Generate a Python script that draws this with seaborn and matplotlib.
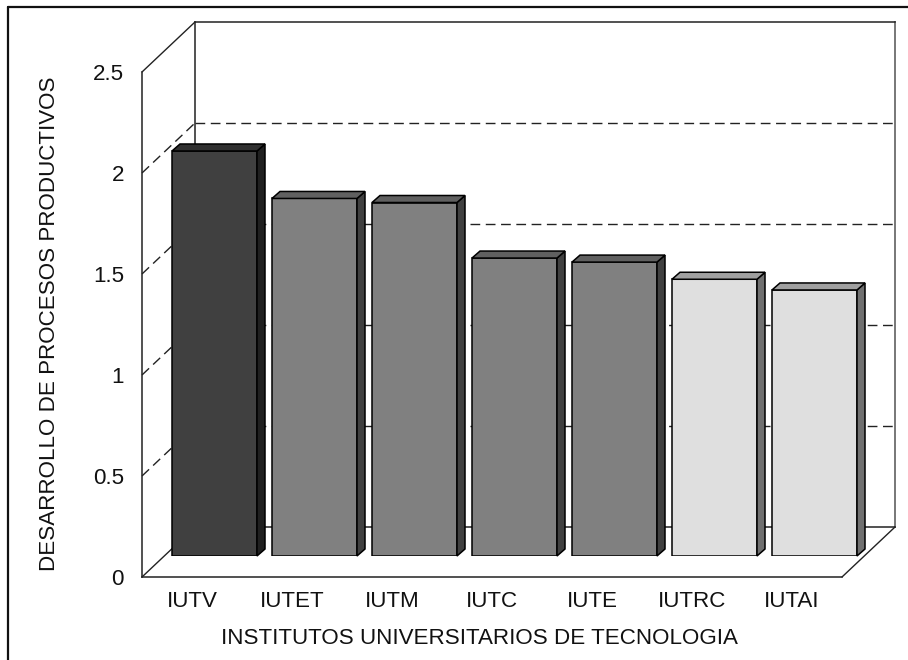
import matplotlib
matplotlib.use("Agg")
import matplotlib.pyplot as plt
import seaborn as sns
from matplotlib.lines import Line2D

categories = ["IUTV", "IUTET", "IUTM", "IUTC", "IUTE", "IUTRC", "IUTAI"]
values = [2.005, 1.77, 1.75, 1.475, 1.455, 1.37, 1.317]
face_colors = ["#404040", "#808080", "#808080", "#808080", "#808080", "#DFDFDF", "#DFDFDF"]
side_colors = ["#202020", "#404040", "#404040", "#404040", "#404040", "#707070", "#707070"]
top_colors = ["#303030", "#606060", "#606060", "#606060", "#606060", "#A0A0A0", "#A0A0A0"]
y_ticks = [0, 0.5, 1, 1.5, 2, 2.5]
y_labels = ["0", "0.5", "1", "1.5", "2", "2.5"]
x_title = "INSTITUTOS UNIVERSITARIOS DE TECNOLOGIA"
y_title = "DESARROLLO DE PROCESOS PRODUCTIVOS"

sns.set_theme(style="white")
plt.rcParams["font.family"] = ["Liberation Sans", "DejaVu Sans"]

W, H = 908, 660
FS = 16.1
DASH = (0, (7, 4))
fig = plt.figure(figsize=(W / 100, H / 100), dpi=100)


def axes_px(x0, y_top, x1, y_bottom):
    a = fig.add_axes([x0 / W, 1 - y_bottom / H, (x1 - x0) / W, (y_bottom - y_top) / H])
    a.set_xlim(-0.5, 6.5)
    a.set_ylim(0, 2.5)
    a.patch.set_alpha(0)
    return a


# outer frame: left and top edges only
for xs, ys in [((8, 8), (7, 660)), ((8, 908), (7, 7))]:
    fig.add_artist(Line2D([x / W for x in xs], [1 - y / H for y in ys], color="#111111", lw=1.6))

# back wall
back = axes_px(195, 22, 895, 527)
back.set_xticks([])
back.set_yticks(y_ticks[1:-1])
back.set_yticklabels([])
back.tick_params(length=0)
back.grid(axis="y", color="#222222", lw=1, linestyle=DASH)
for name, sp in back.spines.items():
    sp.set_visible(True)
    sp.set_color("#777777" if name == "right" else "#222222")
    sp.set_linewidth(1.4 if name == "right" else 1.1)

# front plane: axis, labels and side-wall lines
front = axes_px(142, 72, 842, 577)
front.set_xticks(range(len(categories)))
front.set_xticklabels(categories, fontsize=FS, color="#111111")
front.set_yticks(y_ticks)
front.set_yticklabels(y_labels, fontsize=FS, color="#111111")
front.tick_params(length=0)
front.tick_params(axis="x", pad=10)
front.tick_params(axis="y", pad=13)
front.set_xlabel(x_title, fontsize=FS, color="#111111")
front.set_ylabel(y_title, fontsize=FS, color="#111111")
front.xaxis.set_label_coords((479 - 142) / 700, -(638 - 577) / 505, transform=front.transAxes)
front.xaxis.label.set_verticalalignment("center")
front.yaxis.set_label_coords((50 - 142) / 700, 0.501, transform=front.transAxes)
front.yaxis.label.set_verticalalignment("center")
for name, sp in front.spines.items():
    sp.set_visible(name in ("left", "bottom"))
    sp.set_color("#222222")
    sp.set_linewidth(1.1)
ddx, ddy = 53 / 100, 50 / 202
for v in y_ticks:
    solid = v in (0, 2.5)
    front.plot([-0.5, -0.5 + ddx], [v, v + ddy], color="#222222", lw=1, clip_on=False,
               linestyle="-" if solid else DASH)
front.plot([6.5, 6.5 + ddx], [0, ddy], color="#222222", lw=1, clip_on=False)

# bars, in a plane part of the way back
bars = axes_px(164.5, 51, 864.5, 556)
sns.barplot(x=categories, y=values, hue=categories, palette=face_colors, dodge=False,
            width=0.85, edgecolor="black", linewidth=1.1, legend=False, saturation=1, ax=bars)
bars.set_xlim(-0.5, 6.5)
bars.set_ylim(0, 2.5)
bars.set_xlabel("")
bars.set_ylabel("")
bars.set_xticks([])
bars.set_yticks([])
bars.grid(False)
for sp in bars.spines.values():
    sp.set_visible(False)
bdx, bdy = 8 / 100, 7 / 202
for i, v in enumerate(values):
    l, r = i - 0.425, i + 0.425
    bars.fill([r, r + bdx, r + bdx, r], [0, bdy, v + bdy, v], facecolor=side_colors[i],
              edgecolor="black", lw=1.1, clip_on=False, zorder=3)
    bars.fill([l, l + bdx, r + bdx, r], [v, v + bdy, v + bdy, v], facecolor=top_colors[i],
              edgecolor="black", lw=1.1, clip_on=False, zorder=3)

fig.savefig("out.png", dpi=100, facecolor="white")
